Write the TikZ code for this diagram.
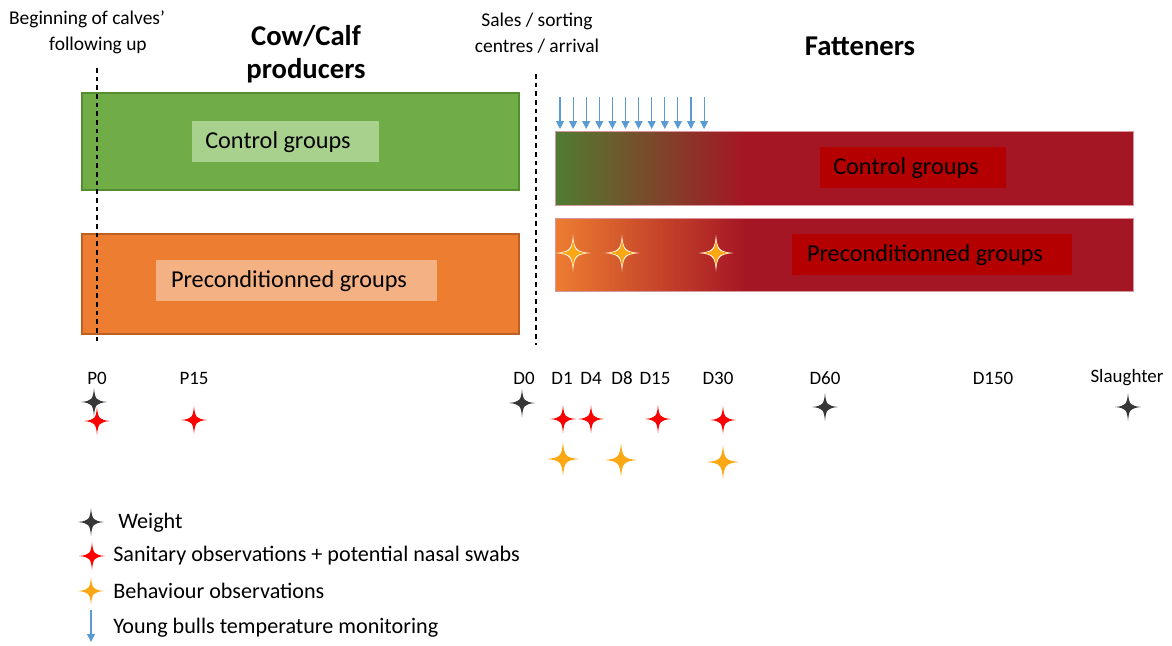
\documentclass[tikz,border=0pt]{standalone}
\usepackage{fontspec}
\setmainfont{Carlito}
\usetikzlibrary{arrows.meta}
\definecolor{cgreen}{RGB}{112,173,71}
\definecolor{cgreenedge}{RGB}{84,140,50}
\definecolor{cgreenlab}{RGB}{169,209,142}
\definecolor{corange}{RGB}{237,125,49}
\definecolor{corangeedge}{RGB}{190,95,35}
\definecolor{corangelab}{RGB}{244,177,131}
\definecolor{cred}{RGB}{165,22,36}
\definecolor{credlab}{RGB}{180,0,0}
\definecolor{cdgreen}{RGB}{80,125,50}
\definecolor{cblue}{RGB}{91,155,213}
\definecolor{cstarblack}{RGB}{55,55,55}
\definecolor{cstarred}{RGB}{250,0,0}
\definecolor{cstarorange}{RGB}{252,168,20}
\newcommand\quadstar[6][]{%
  \fill[#2,#1] ({#3+#5},#4)
    .. controls ({#3+0.18*#5},{#4-0.08*#6}) and ({#3+0.08*#5},{#4-0.18*#6}) .. (#3,{#4-#6})
    .. controls ({#3-0.08*#5},{#4-0.18*#6}) and ({#3-0.18*#5},{#4-0.08*#6}) .. ({#3-#5},#4)
    .. controls ({#3-0.18*#5},{#4+0.08*#6}) and ({#3-0.08*#5},{#4+0.18*#6}) .. (#3,{#4+#6})
    .. controls ({#3+0.08*#5},{#4+0.18*#6}) and ({#3+0.18*#5},{#4+0.08*#6}) .. cycle;}
\begin{document}
\begin{tikzpicture}[x=0.75pt,y=-0.75pt,
  boxtxt/.style={font=\fontsize{18.2}{20}\selectfont, inner sep=0pt},
  toptxt/.style={font=\fontsize{14.6}{19.5}\selectfont, align=center, inner sep=0pt},
  headtxt/.style={font=\fontsize{21.5}{24.75}\selectfont\bfseries, align=center, inner sep=0pt},
  timetxt/.style={font=\fontsize{14.2}{16}\selectfont, inner sep=0pt},
  legtxt/.style={font=\fontsize{16.6}{18}\selectfont, inner sep=0pt, anchor=west},
  dashline/.style={black, line width=1.1pt, dash pattern=on 3.5pt off 3pt},
  temparrow/.style={cblue, line width=0.8pt, -{Triangle[length=6pt,width=6pt]}}]
\useasboundingbox (0,0) rectangle (1172,646);
% left boxes
\filldraw[fill=cgreen, draw=cgreenedge, line width=0.8pt] (82,93) rectangle (519,190);
\fill[cgreenlab] (192,121) rectangle (379,162);
\node[boxtxt] (lcontrol) at (278,142) {Control groups};
\filldraw[fill=corange, draw=corangeedge, line width=0.8pt] (82,234) rectangle (519,334);
\fill[corangelab] (156,260) rectangle (437,301);
\node[boxtxt] (lprecond) at (289,281) {Preconditionned groups};
% right boxes
\shade[left color=cdgreen, right color=cred] (555,131) rectangle (745,205);
\fill[cred] (744.5,131) rectangle (1133,205);
\draw[cred!45!white, line width=0.6pt] (555,131) rectangle (1133,205);
\fill[credlab] (820,147) rectangle (1006,188);
\node[boxtxt] (rcontrol) at (906,168) {Control groups};
\shade[left color=corange, right color=cred] (555,218) rectangle (745,291);
\fill[cred] (744.5,218) rectangle (1133,291);
\draw[cred!45!white, line width=0.6pt] (555,218) rectangle (1133,291);
\fill[credlab] (792,234) rectangle (1072,275);
\node[boxtxt] (rprecond) at (925,255) {Preconditionned groups};
% stars in box
\foreach \sx in {573,622,716}{
  \quadstar{white}{\sx}{253}{17.5}{18.5}
  \quadstar{cstarorange}{\sx}{253}{14}{15}
}
% dashed lines
\coordinate (d1t) at (97,68); \coordinate (d1b) at (97,345);
\coordinate (d2t) at (536,74); \coordinate (d2b) at (536,345);
\draw[dashline] (d1t) -- (d1b);
\draw[dashline] (d2t) -- (d2b);
% top texts
\node[toptxt] (beg1) at (87,19) {Beginning of calves’};
\node[toptxt] (beg2) at (98,45) {following up};
\node[toptxt] (sales) at (537,33) {Sales / sorting\\centres / arrival};
\node[headtxt] (cowcalf) at (306,54) {Cow/Calf\\producers};
\node[headtxt] (fat) at (860,46) {Fatteners};
% temperature arrows
\foreach \i in {0,...,11}{
  \coordinate (ta\i) at ({560+13.1*\i},97);
  \coordinate (tb\i) at ({560+13.1*\i},129);
  \draw[temparrow] (ta\i) -- (tb\i);
}
% time labels
\node[timetxt] (p0) at (97,378) {P0};
\node[timetxt] (p15) at (194,378) {P15};
\node[timetxt] (d0) at (524,378) {D0};
\node[timetxt] (dd1) at (562,378) {D1};
\node[timetxt] (dd4) at (591,378) {D4};
\node[timetxt] (dd8) at (622,378) {D8};
\node[timetxt] (dd15) at (655,378) {D15};
\node[timetxt] (dd30) at (718,378) {D30};
\node[timetxt] (dd60) at (825,378) {D60};
\node[timetxt] (dd150) at (993,378) {D150};
\node[timetxt] (slaught) at (1127,378) {Slaughter};
% weight stars
\quadstar{cstarblack}{94}{402}{13}{14}
\quadstar{cstarblack}{522}{403}{13}{14}
\quadstar{cstarblack}{825}{407}{13}{14}
\quadstar{cstarblack}{1128}{407}{13}{14}
% sanitary stars
\foreach \sx/\sy in {97/421,194/420,563/419,591/419,658/419,723/420}{
  \quadstar{cstarred}{\sx}{\sy}{13}{14}
}
% behaviour stars
\foreach \sx/\sy in {563/459,621/460,723/462}{
  \quadstar{cstarorange}{\sx}{\sy}{16}{17}
}
% legend
\quadstar{cstarblack}{91}{522}{13}{14}
\node[legtxt] (lw) at (118,523) {Weight};
\quadstar{cstarred}{92}{556}{13}{14}
\node[legtxt] (ls) at (113,556) {Sanitary observations + potential nasal swabs};
\quadstar{cstarorange}{91}{591}{13}{14}
\node[legtxt] (lb) at (113,591) {Behaviour observations};
\coordinate (la) at (91,610); \coordinate (lab) at (91,642);
\draw[temparrow] (la) -- (lab);
\node[legtxt] (lt) at (113,628) {Young bulls temperature monitoring};
\end{tikzpicture}
\end{document}
